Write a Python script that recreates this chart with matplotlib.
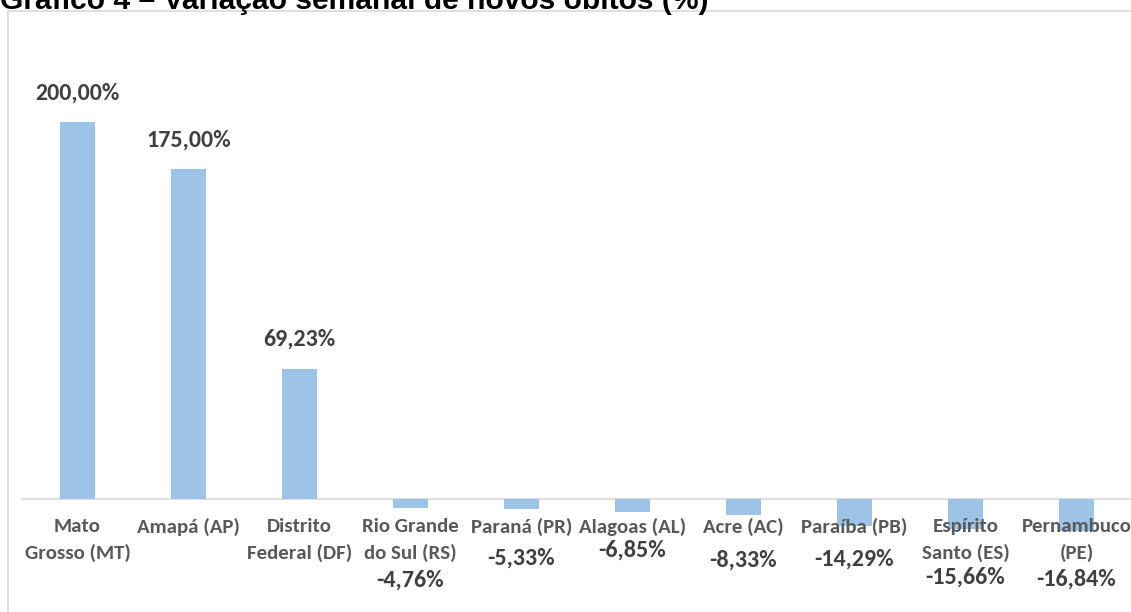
import matplotlib.pyplot as plt
from matplotlib.patches import Rectangle

# dados do gráfico
estados = ['Mato\nGrosso (MT)', 'Amapá (AP)', 'Distrito\nFederal (DF)',
           'Rio Grande\ndo Sul (RS)', 'Paraná (PR)', 'Alagoas (AL)',
           'Acre (AC)', 'Paraíba (PB)', 'Espírito\nSanto (ES)',
           'Pernambuco\n(PE)']
variacao = [200.00, 175.00, 69.23, -4.76, -5.33, -6.85, -8.33, -14.29,
            -15.66, -16.84]
rotulos = ['200,00%', '175,00%', '69,23%', '-4,76%', '-5,33%', '-6,85%',
           '-8,33%', '-14,29%', '-15,66%', '-16,84%']
# deslocamento (px) dos rótulos negativos abaixo da barra
desloc_neg = [72, 49, 38, 45, 33, 49, 48]

fig = plt.figure(figsize=(11.31, 6.12), dpi=100)
ax = fig.add_axes([22 / 1131, 0, 1110 / 1131, (612 - 65.5) / 612])

x = range(len(estados))
ax.bar(x, variacao, width=0.315, color='#9dc3e6', zorder=1)
ax.set_xlim(-0.5, len(estados) - 0.5)
ax.set_ylim(-59.9, 230)

for s in ['top', 'right', 'left']:
    ax.spines[s].set_visible(False)
ax.spines['bottom'].set_position(('data', 0))
ax.spines['bottom'].set_color('#d9d9d9')
ax.spines['bottom'].set_linewidth(1.2)
ax.spines['bottom'].set_zorder(0.5)
ax.set_yticks([])
ax.set_xticks([])

# nomes dos estados abaixo da linha do zero
for i, nome in enumerate(estados):
    ax.annotate(nome, (i, 0), xytext=(0, -19), textcoords='offset pixels',
                ha='center', va='top', fontfamily='Carlito',
                fontweight='bold', fontsize=15, color='#595959',
                linespacing=1.58, zorder=3)

i_neg = 0
for i, (v, r) in enumerate(zip(variacao, rotulos)):
    if v >= 0:
        ax.annotate(r, (i, v), xytext=(0, 29), textcoords='offset pixels',
                    ha='center', va='center', fontfamily='Carlito',
                    fontweight='bold', fontsize=17.3, color='#404040')
    else:
        ax.annotate(r, (i, v), xytext=(0, -desloc_neg[i_neg]),
                    textcoords='offset pixels', ha='center', va='center',
                    fontfamily='Carlito', fontweight='bold', fontsize=17.3,
                    color='#404040')
        i_neg += 1

# moldura do gráfico
fig.patches.append(Rectangle((8 / 1131, -0.01), 1.05, 1 - 11 / 612 + 0.01,
                             transform=fig.transFigure, fill=False,
                             edgecolor='#d9d9d9', linewidth=1.2))

fig.text(0.0, 1 - 9 / 612, 'Gráfico 4 – Variação semanal de novos óbitos (%)',
         fontfamily='Liberation Sans', fontweight='bold', fontsize=21.6,
         color='black', ha='left', va='baseline')

fig.savefig('out.png', dpi=100)
